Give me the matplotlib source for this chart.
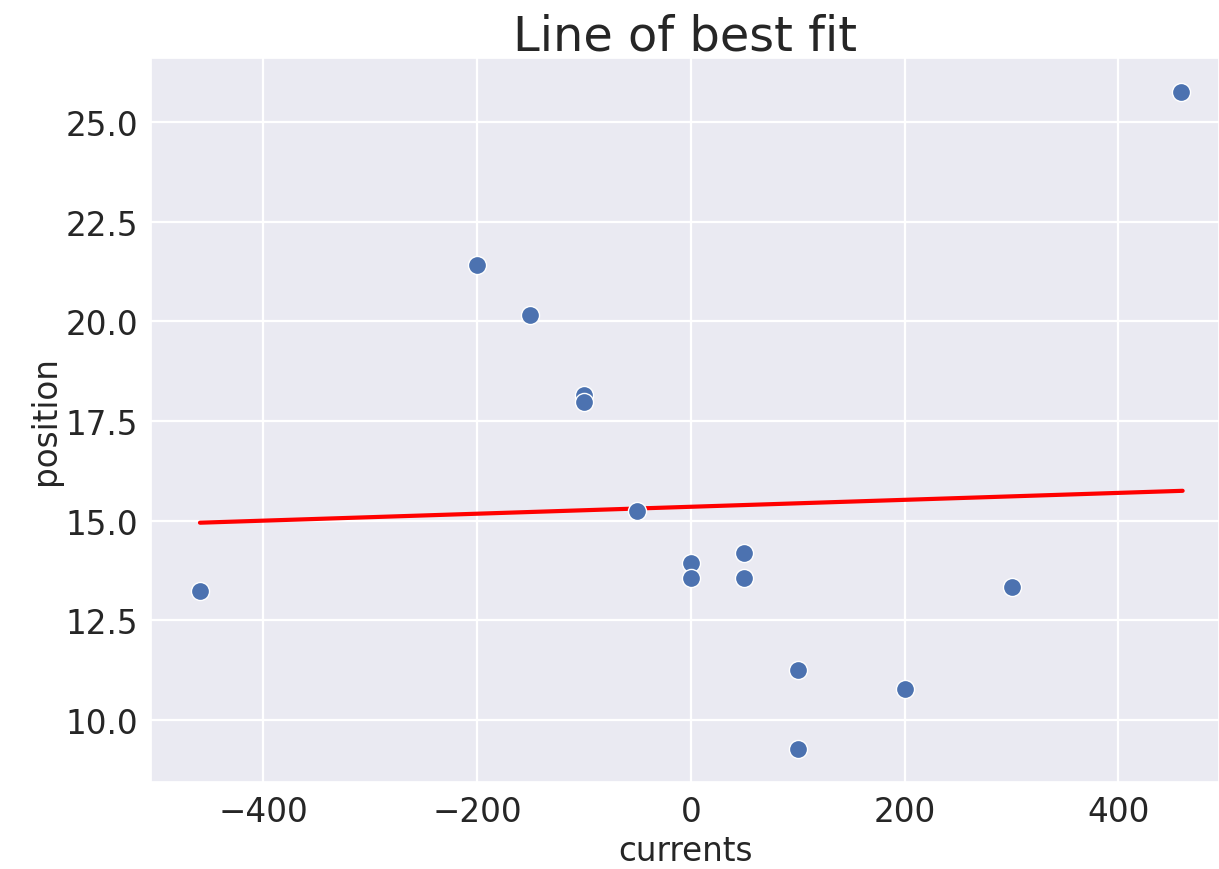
import matplotlib
matplotlib.use("Agg")
import matplotlib.pyplot as plt
import seaborn as sns
import pandas as pd

# measured points
currents = [458, -459, -200, -150, -100, -100, -50, 0, 0, 50, 50, 100, 100, 200, 300]
position = [25.75, 13.24, 21.41, 20.16, 18.15, 17.97, 15.25, 13.93, 13.56,
            14.18, 13.56, 11.27, 9.27, 10.77, 13.33]

# end points of the fitted line as drawn
fit_x = [-459, 460]
fit_y = [14.95, 15.75]

df = pd.DataFrame({"currents": currents, "position": position})

sns.set_theme(style="darkgrid")

fig = plt.figure(figsize=(12.19, 8.70), dpi=100)
ax = fig.add_axes([151 / 1219, (870 - 783) / 870, (1219 - 151) / 1219, (783 - 59) / 870])

sns.scatterplot(data=df, x="currents", y="position", ax=ax, s=170,
                color="#4c72b0", edgecolor="white", linewidth=1, zorder=3)
ax.plot(fit_x, fit_y, color="red", linewidth=3, zorder=2)

ax.set_xlim(-504.8, 494.0)
ax.set_ylim(8.45, 26.60)
ax.set_xticks([-400, -200, 0, 200, 400])
ax.set_yticks([10.0, 12.5, 15.0, 17.5, 20.0, 22.5, 25.0])
ax.grid(color="white", linewidth=1.6)

ax.tick_params(labelsize=23.5, colors="#262626")
ax.set_xlabel("currents", fontsize=23.5, color="#262626")
ax.set_ylabel("position", fontsize=23.5, color="#262626", labelpad=2)
ax.set_title("Line of best fit", fontsize=34.5, color="#262626")

fig.savefig("out.png", dpi=100)
